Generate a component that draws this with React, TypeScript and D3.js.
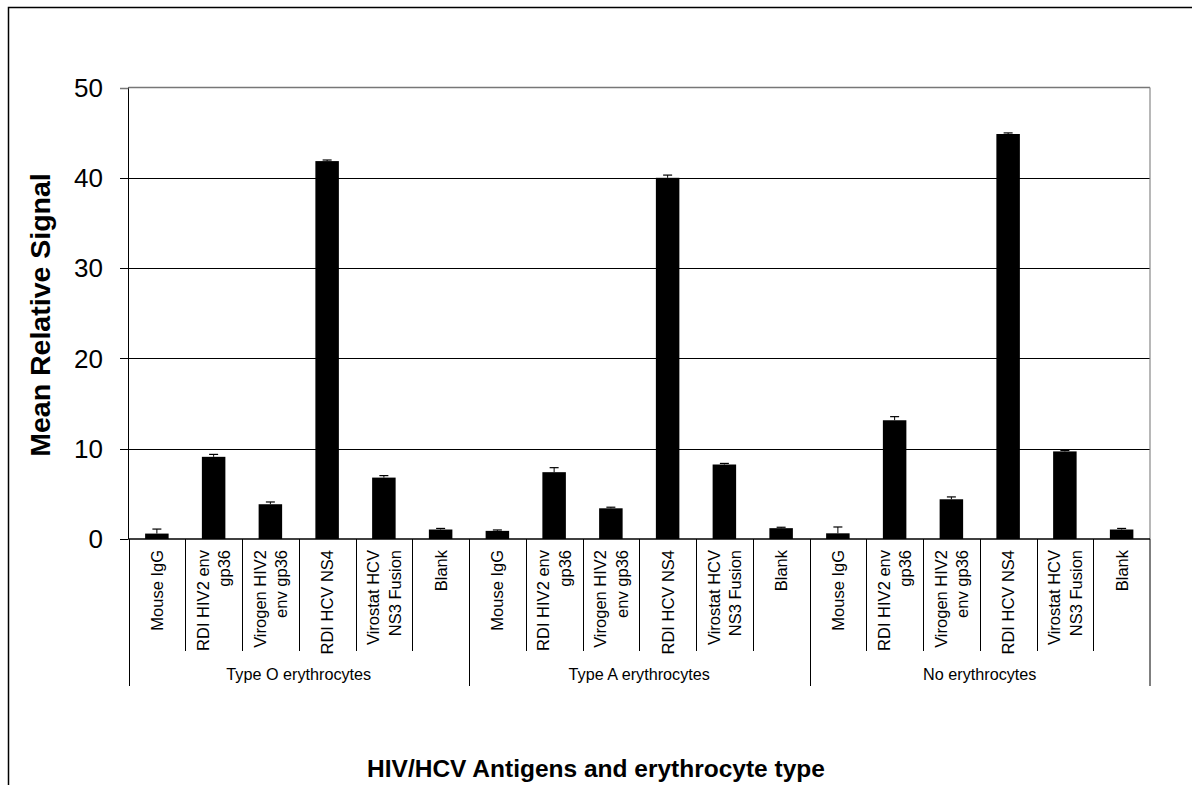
import React from "react";
import * as d3 from "d3";

const groups = ["Type O erythrocytes", "Type A erythrocytes", "No erythrocytes"];
const antigens: string[][] = [
  ["Mouse IgG"],
  ["RDI HIV2 env", "gp36"],
  ["Virogen HIV2", "env gp36"],
  ["RDI HCV NS4"],
  ["Virostat HCV", "NS3 Fusion"],
  ["Blank"],
];
const typeOValues = [0.6, 9.1, 3.85, 41.85, 6.8, 1.05];
const typeOErrors = [0.5, 0.27, 0.25, 0.12, 0.22, 0.12];
const typeAValues = [0.9, 7.4, 3.4, 40.0, 8.25, 1.2];
const typeAErrors = [0.1, 0.5, 0.12, 0.3, 0.12, 0.1];
const noneValues = [0.63, 13.15, 4.4, 44.85, 9.7, 1.05];
const noneErrors = [0.7, 0.4, 0.26, 0.12, 0.1, 0.12];
const yTicks = [0, 10, 20, 30, 40, 50];

const FONT = "'Liberation Sans', Arial, Helvetica, sans-serif";

export default function App() {
  const W = 1192, H = 785;
  const left = 128.5, right = 1150, top = 87.5, bottom = 539;
  const allValues = [typeOValues, typeAValues, noneValues];
  const allErrors = [typeOErrors, typeAErrors, noneErrors];
  const cats = groups.flatMap((g, gi) =>
    antigens.map((a, ai) => ({ gi, ai, key: `${gi}-${ai}`, label: a, value: allValues[gi][ai], err: allErrors[gi][ai] }))
  );
  const x = d3.scaleBand<string>().domain(cats.map((c) => c.key)).range([left, right]).padding(0);
  const y = d3.scaleLinear().domain([0, 50]).range([bottom, top]);
  const bw = x.bandwidth();
  const barW = 23.5;
  const groupW = bw * antigens.length;

  return (
    <svg width={W} height={H} style={{ position: "absolute", left: 0, top: 0, display: "block", background: "#fff" }}>
      <rect x={8.5} y={7.5} width={1300} height={900} fill="#fff" stroke="#000" strokeWidth={1.5} />
      {/* gridlines */}
      {yTicks.filter((t) => t > 0 && t < 50).map((t) => (
        <line key={t} x1={left} x2={right} y1={Math.round(y(t)) + 0.5} y2={Math.round(y(t)) + 0.5} stroke="#000" strokeWidth={1} />
      ))}
      {/* plot border top/right gray */}
      <line x1={left} x2={right} y1={top} y2={top} stroke="#777" strokeWidth={1.5} />
      <line x1={right} x2={right} y1={top} y2={bottom} stroke="#888" strokeWidth={1.2} />
      {/* bars */}
      {cats.map((c) => {
        const cx = x(c.key)! + bw / 2;
        const yt = y(c.value);
        const ye = y(c.value + c.err);
        return (
          <g key={c.key}>
            <rect x={cx - barW / 2} y={yt} width={barW} height={bottom - yt} fill="#000" />
            <line x1={cx} x2={cx} y1={yt} y2={ye} stroke="#000" strokeWidth={1} />
            <line x1={cx - 4.5} x2={cx + 4.5} y1={ye} y2={ye} stroke="#000" strokeWidth={1.2} />
          </g>
        );
      })}
      {/* y axis */}
      <line x1={left} x2={left} y1={top} y2={bottom} stroke="#000" strokeWidth={1} />
      {yTicks.map((t) => (
        <g key={t}>
          <line x1={120} x2={left} y1={Math.round(y(t)) + 0.5} y2={Math.round(y(t)) + 0.5} stroke={t === 50 ? "#777" : "#000"} strokeWidth={t === 50 ? 1.5 : 1} />
          <text x={103} y={y(t)} dy="0.36em" textAnchor="end" fontFamily={FONT} fontSize={26} fill="#000">{t}</text>
        </g>
      ))}
      {/* baseline */}
      <line x1={left} x2={right} y1={bottom} y2={bottom} stroke="#000" strokeWidth={1.3} />
      {/* category separators */}
      {cats.map((c, i) => {
        const xs = Math.round(x(c.key)!) + 0.5;
        const isGroup = i % antigens.length === 0;
        return <line key={"s" + c.key} x1={xs} x2={xs} y1={bottom} y2={isGroup ? 686 : 651} stroke="#000" strokeWidth={1} />;
      })}
      <line x1={right} x2={right} y1={bottom} y2={686} stroke="#000" strokeWidth={1} />
      {/* category labels */}
      {cats.map((c) => {
        const cx = x(c.key)! + bw / 2;
        const n = c.label.length;
        return c.label.map((ln, li) => {
          const lx = cx + (li - (n - 1) / 2) * 21.4;
          return (
            <text key={c.key + li} transform={`translate(${lx},550) rotate(-90)`} dy="0.36em" textAnchor="end" fontFamily={FONT} fontSize={16.5} fill="#000">{ln}</text>
          );
        });
      })}
      {/* group labels */}
      {groups.map((g, gi) => (
        <text key={g} x={left + groupW * (gi + 0.5)} y={680} textAnchor="middle" fontFamily={FONT} fontSize={16.2} fill="#000">{g}</text>
      ))}
      {/* titles */}
      <text transform={`translate(50,315) rotate(-90)`} textAnchor="middle" fontFamily={FONT} fontSize={28.5} fontWeight="bold" fill="#000">Mean Relative Signal</text>
      <text x={596} y={777} textAnchor="middle" fontFamily={FONT} fontSize={24.5} fontWeight="bold" fill="#000">HIV/HCV Antigens and erythrocyte type</text>
    </svg>
  );
}
